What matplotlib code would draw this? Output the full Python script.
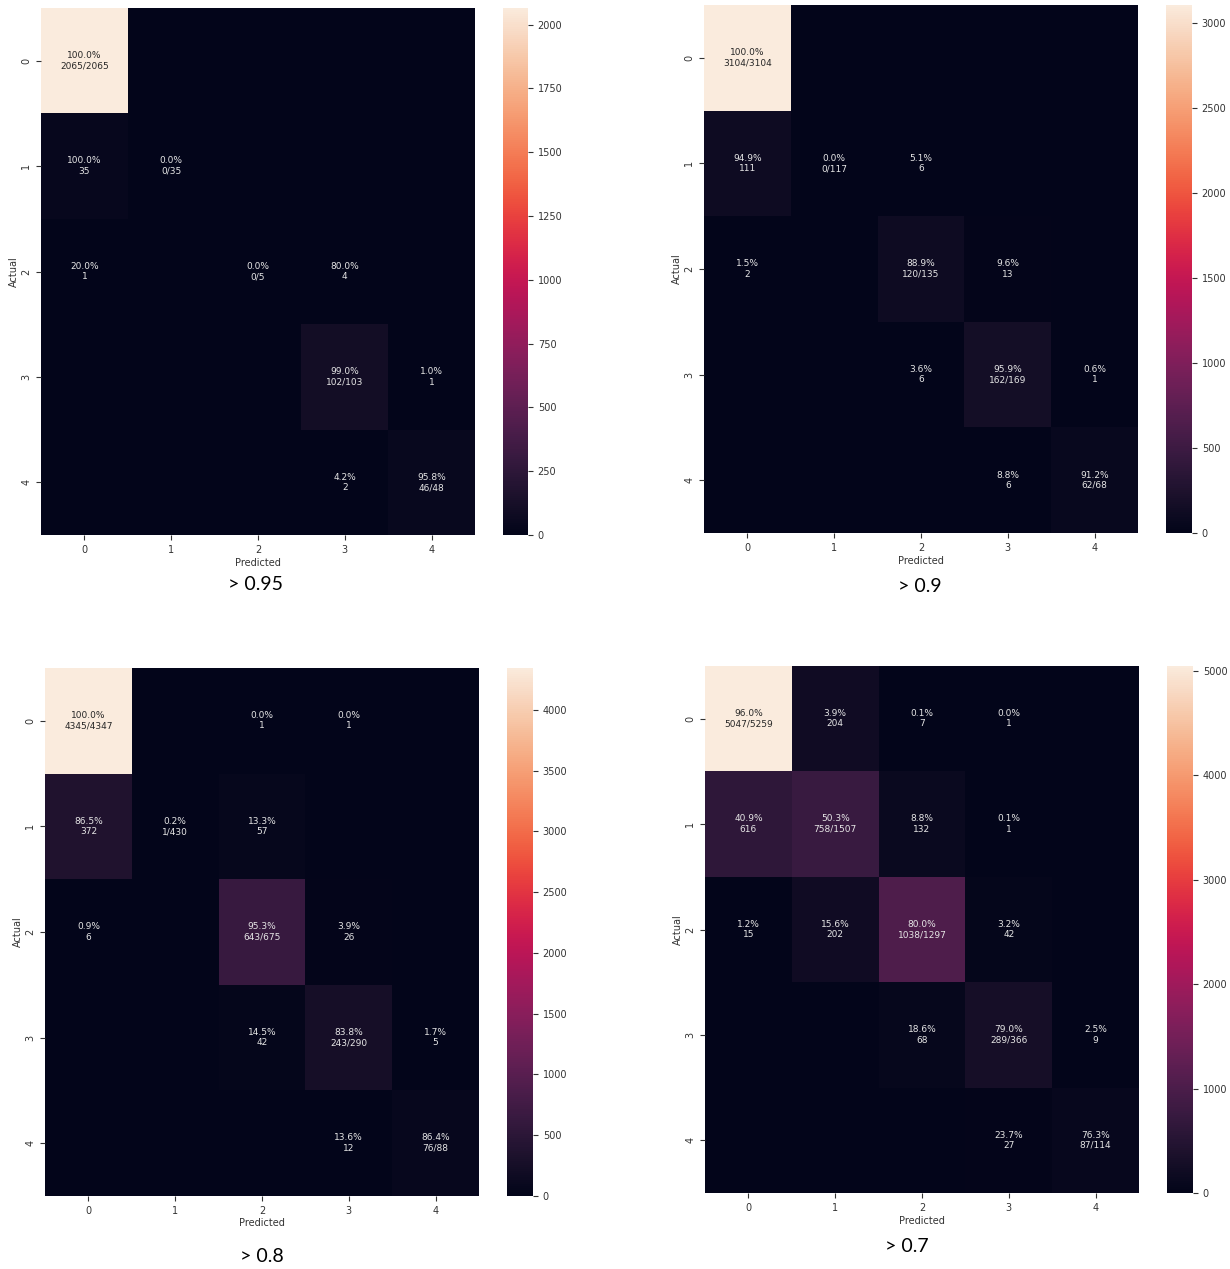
import matplotlib
matplotlib.use("Agg")
import matplotlib.pyplot as plt
import numpy as np
import seaborn as sns

labels = [0, 1, 2, 3, 4]

# confusion matrices (rows = actual, cols = predicted) per confidence threshold
cm_095 = [[2065, 0, 0, 0, 0],
          [35, 0, 0, 0, 0],
          [1, 0, 0, 4, 0],
          [0, 0, 0, 102, 1],
          [0, 0, 0, 2, 46]]
cm_090 = [[3104, 0, 0, 0, 0],
          [111, 0, 6, 0, 0],
          [2, 0, 120, 13, 0],
          [0, 0, 6, 162, 1],
          [0, 0, 0, 6, 62]]
cm_080 = [[4345, 0, 1, 1, 0],
          [372, 1, 57, 0, 0],
          [6, 0, 643, 26, 0],
          [0, 0, 42, 243, 5],
          [0, 0, 0, 12, 76]]
cm_070 = [[5047, 204, 7, 1, 0],
          [616, 758, 132, 1, 0],
          [15, 202, 1038, 42, 0],
          [0, 0, 68, 289, 9],
          [0, 0, 0, 27, 87]]

captions = ["> 0.95", "> 0.9", "> 0.8", "> 0.7"]
cbar_steps = [250, 500, 500, 1000]

W, H = 1230, 1269


def px_rect(x0, y0, x1, y1):
    """Pixel box (top-left origin) -> figure fraction rect."""
    return [x0 / W, 1 - y1 / H, (x1 - x0) / W, (y1 - y0) / H]


def cm_annot(cm):
    cm = np.asarray(cm)
    sums = cm.sum(axis=1)
    out = np.empty(cm.shape, dtype=object)
    for i in range(cm.shape[0]):
        for j in range(cm.shape[1]):
            c = cm[i, j]
            p = c / sums[i] * 100
            if i == j:
                out[i, j] = f"{p:.1f}%\n{c}/{sums[i]}"
            elif c == 0:
                out[i, j] = ""
            else:
                out[i, j] = f"{p:.1f}%\n{c}"
    return out


def draw_panel(fig, cm, ax_box, cb_box, caption, cap_xy, step):
    ax = fig.add_axes(px_rect(*ax_box))
    cax = fig.add_axes(px_rect(*cb_box))
    sns.heatmap(np.asarray(cm), annot=cm_annot(cm), fmt="", cmap="rocket",
                ax=ax, cbar_ax=cax, annot_kws={"fontsize": 6.5},
                xticklabels=labels, yticklabels=labels)
    # soften the white annotations a little
    for t in ax.texts:
        if t.get_color() == "w":
            t.set_color("#e6e6e6")
    ax.set_xlabel("Predicted", fontsize=7, labelpad=2, color="#333333")
    ax.set_ylabel("Actual", fontsize=7, labelpad=2, color="#333333")
    ax.tick_params(labelsize=7, colors="#333333")
    ax.set_yticklabels(labels, rotation=90, va="center")
    vmax = np.max(cm)
    cax.set_yticks(np.arange(0, vmax + 1, step))
    cax.tick_params(labelsize=7, colors="#333333")
    fig.text(cap_xy[0] / W, 1 - cap_xy[1] / H, caption, fontsize=14,
             family="Lato", ha="center", va="center")


fig = plt.figure(figsize=(W / 100, H / 100), dpi=100)

draw_panel(fig, cm_095, (41, 8, 475, 535), (503, 8, 528, 535),
           captions[0], (255, 584), cbar_steps[0])
draw_panel(fig, cm_090, (704, 5, 1138, 533), (1166, 5, 1192, 533),
           captions[1], (920, 587), cbar_steps[1])
draw_panel(fig, cm_080, (45, 668, 479, 1196), (507, 668, 533, 1196),
           captions[2], (262, 1256), cbar_steps[2])
draw_panel(fig, cm_070, (705, 666, 1139, 1193), (1167, 666, 1193, 1193),
           captions[3], (907, 1247), cbar_steps[3])

fig.savefig("out.png", dpi=100)
